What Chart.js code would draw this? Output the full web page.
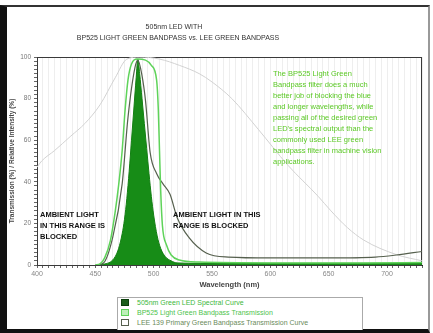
<!DOCTYPE html>
<html>
<head>
<meta charset="utf-8">
<title>505nm LED with BP525 vs LEE green bandpass</title>
<script src="https://cdn.jsdelivr.net/npm/chart.js@4.4.1/dist/chart.umd.min.js"></script>
<style>
    html, body { margin: 0; padding: 0; background: #fff; }
    body { width: 433px; height: 333px; position: relative; overflow: hidden; font-family: "Liberation Sans", Arial, sans-serif; }
    #frame { position: absolute; left: 0; top: 5px; width: 421px; height: 322px; border-left: 7px solid #111; border-top: 2px solid #333; border-right: 2px solid #999; border-bottom: 4px solid #111; }
    #chart { position: absolute; left: 0; top: 0; }
    #legend { position: absolute; left: 117px; top: 297px; width: 244px; height: 32px; border: 1px solid #aaa; border-bottom: none; background: #fff; overflow: hidden; }
    #legend div { height: 10px; line-height: 10px; font-size: 7px; white-space: nowrap; margin-top: 0; }
    #legend span.box { display: inline-block; width: 8px; height: 7px; margin: 0 8px 0 3px; vertical-align: -1px; box-sizing: border-box; }
</style>
</head>
<body>
<div id="frame"></div>
<canvas id="chart" width="433" height="333"></canvas>
<div id="legend"></div>
<script>
// Broad light grey reference curve
var lampNm     = [400, 404, 415, 429, 441, 454, 467, 477, 488, 505, 522, 539, 550, 567, 590, 615, 641, 652, 666, 680, 708, 730];
var lampValues = [47, 50, 55, 62, 68, 77, 90, 99, 100, 99, 96, 92, 88, 80, 65, 48, 33, 26, 18, 12, 5, 2];

// LED spectral curve (filled)
var ledNm     = [452, 458, 463, 467, 470, 473, 475, 477, 479, 481, 483, 485, 486.5, 488, 490, 492, 494, 496, 498, 500, 503, 506, 510, 515, 520, 540, 600, 660, 730];
var ledValues = [0, 0.5, 1.5, 4, 8, 15, 22, 32, 45, 60, 75, 90, 99, 92, 80, 68, 56, 44, 33, 24, 14, 8, 4, 2, 1, 0.8, 0.8, 0.8, 0.8];

// BP525 light green bandpass transmission
var bpNm     = [450, 454, 458, 463, 467, 470, 473, 475.5, 478, 481, 486, 493, 498, 502.5, 504, 505, 506, 507.5, 511, 515, 522, 539, 600, 680, 730];
var bpValues = [0, 0.5, 3.4, 12, 25.5, 38.5, 55, 74.5, 89, 96.6, 99, 98.5, 96, 89, 74.5, 55, 36, 19, 9.6, 4.8, 2.4, 1.4, 1, 1, 1.2];

// LEE green bandpass transmission
var leeNm     = [450, 457, 465, 473, 478, 484, 486.5, 490, 493, 497, 502.5, 508, 514, 520, 530.5, 545, 564, 600, 650, 690, 708, 730];
var leeValues = [0, 1, 13.5, 39, 71, 95, 98.5, 91, 79, 54, 44, 39, 34, 23, 13, 5.8, 3.8, 3.4, 3.4, 3.8, 4.8, 6.5];

var xTickLabels = [400, 450, 500, 550, 600, 650, 700];
var yTickLabels = [0, 20, 40, 60, 80, 100];

var titleLines = ['505nm LED WITH', 'BP525 LIGHT GREEN BANDPASS vs. LEE GREEN BANDPASS'];
var noteLeft   = ['AMBIENT LIGHT', 'IN THIS RANGE IS', 'BLOCKED'];
var noteRight  = ['AMBIENT LIGHT IN THIS', 'RANGE IS BLOCKED'];
var paragraph  = [
    'The BP525 Light Green',
    'Bandpass filter does a much',
    'better job of blocking the blue',
    'and longer wavelengths, while',
    'passing all of the desired green',
    "LED's spectral output than the",
    'commonly used LEE green',
    'bandpass filter in machine vision',
    'applications.'
];

function toPoints(xs, ys) {
    var pts = [];
    for (var i = 0; i < xs.length; i++) {
        pts.push({x: xs[i], y: ys[i]});
    }
    return pts;
}

var FONT = '"Liberation Sans", Arial, sans-serif';

// Frame around plot area (under the curves) and free text on top
var overlayPlugin = {
    id: 'overlay',
    beforeDatasetsDraw: function(chart) {
        var a = chart.chartArea, ctx = chart.ctx;
        ctx.save();
        ctx.strokeStyle = '#3a3a3a';
        ctx.lineWidth = 1;
        ctx.strokeRect(a.left + 0.5, a.top + 0.5, a.right - a.left - 1, a.bottom - a.top);
        ctx.restore();
    },
    afterDraw: function(chart) {
        var ctx = chart.ctx;
        ctx.save();
        ctx.textBaseline = 'middle';

        // title
        ctx.fillStyle = '#333';
        ctx.textAlign = 'center';
        ctx.font = '7px ' + FONT;
        ctx.fillText(titleLines[0], 174, 27);
        ctx.fillText(titleLines[1], 178, 38);

        // ambient light notes
        ctx.textAlign = 'left';
        ctx.fillStyle = '#111';
        ctx.font = 'bold 7.5px ' + FONT;
        noteLeft.forEach(function(t, i) { ctx.fillText(t, 40, 215 + i * 11); });
        noteRight.forEach(function(t, i) { ctx.fillText(t, 173, 215 + i * 11); });

        // green paragraph
        ctx.fillStyle = '#5cc926';
        ctx.font = '7.5px ' + FONT;
        paragraph.forEach(function(t, i) { ctx.fillText(t, 273, 74 + i * 11); });
        ctx.restore();
    }
};

var chart = new Chart(document.getElementById('chart').getContext('2d'), {
    type: 'line',
    data: {
        datasets: [{
            label: 'BP525 Light Green Bandpass Transmission',
            data: toPoints(bpNm, bpValues),
            borderColor: '#5fd35a',
            backgroundColor: '#bdf0b8',
            borderWidth: 1.5,
            order: 1
        }, {
            label: 'LEE 139 Primary Green Bandpass Transmission Curve',
            data: toPoints(leeNm, leeValues),
            borderColor: '#56604e',
            backgroundColor: '#ffffff',
            borderWidth: 1.2,
            order: 2
        }, {
            label: '505nm Green LED Spectral Curve',
            data: toPoints(ledNm, ledValues),
            borderColor: '#137f13',
            backgroundColor: '#178c17',
            borderWidth: 1,
            fill: 'origin',
            order: 3
        }, {
            label: 'Reference',
            data: toPoints(lampNm, lampValues),
            borderColor: '#d2d2d2',
            borderWidth: 1,
            order: 4,
            hideInLegend: true
        }]
    },
    options: {
        responsive: false,
        animation: false,
        devicePixelRatio: 1,
        elements: {
            point: { radius: 0 },
            line: { cubicInterpolationMode: 'monotone' }
        },
        layout: { padding: { left: 8, top: 57, right: 11, bottom: 43 } },
        plugins: {
            legend: { display: false },
            title: { display: false },
            tooltip: { enabled: false }
        },
        scales: {
            x: {
                type: 'linear',
                min: 400,
                max: 730,
                afterFit: function(s) { s.height = 25; },
                border: { display: true, color: '#222' },
                grid: { color: '#eeeeee', tickColor: '#666', tickLength: 3 },
                ticks: {
                    stepSize: 5,
                    autoSkip: false,
                    maxRotation: 0,
                    padding: 2,
                    color: '#888',
                    font: { family: FONT, size: 7 },
                    callback: function(v) { return xTickLabels.indexOf(Math.round(v)) >= 0 ? String(Math.round(v)) : ''; }
                },
                title: {
                    display: true,
                    text: 'Wavelength (nm)',
                    color: '#444',
                    font: { family: FONT, size: 7.5, weight: 'bold' },
                    padding: { top: 0, bottom: 1 }
                }
            },
            y: {
                min: 0,
                max: 100,
                afterFit: function(s) { s.width = 29; },
                border: { display: true, color: '#222' },
                grid: { drawOnChartArea: false, tickColor: '#666', tickLength: 3 },
                ticks: {
                    stepSize: 2,
                    autoSkip: false,
                    padding: 3,
                    color: '#777',
                    font: { family: FONT, size: 6.5 },
                    callback: function(v) { return yTickLabels.indexOf(Math.round(v)) >= 0 ? String(Math.round(v)) : ''; }
                },
                title: {
                    display: true,
                    text: 'Transmission (%) / Relative Intensity (%)',
                    color: '#444',
                    font: { family: FONT, size: 6.5, weight: 'bold' },
                    padding: 0
                }
            }
        }
    },
    plugins: [overlayPlugin]
});

// HTML legend from the datasets, LED first
(function buildLegend() {
    var box = document.getElementById('legend');
    var textColors = ['#3cb83c', '#4cc34c', '#6a8a5a'];
    var sets = chart.data.datasets.filter(function(d) { return !d.hideInLegend; });
    var ordered = [sets[2], sets[0], sets[1]];
    ordered.forEach(function(d, i) {
        var row = document.createElement('div');
        var sw = document.createElement('span');
        sw.className = 'box';
        sw.style.background = i === 0 ? '#1b5e1b' : d.backgroundColor;
        sw.style.border = '1px solid ' + (i === 0 ? '#0b3f0b' : d.borderColor);
        row.appendChild(sw);
        row.appendChild(document.createTextNode(d.label));
        row.style.color = textColors[i];
        box.appendChild(row);
    });
})();
</script>
</body>
</html>
